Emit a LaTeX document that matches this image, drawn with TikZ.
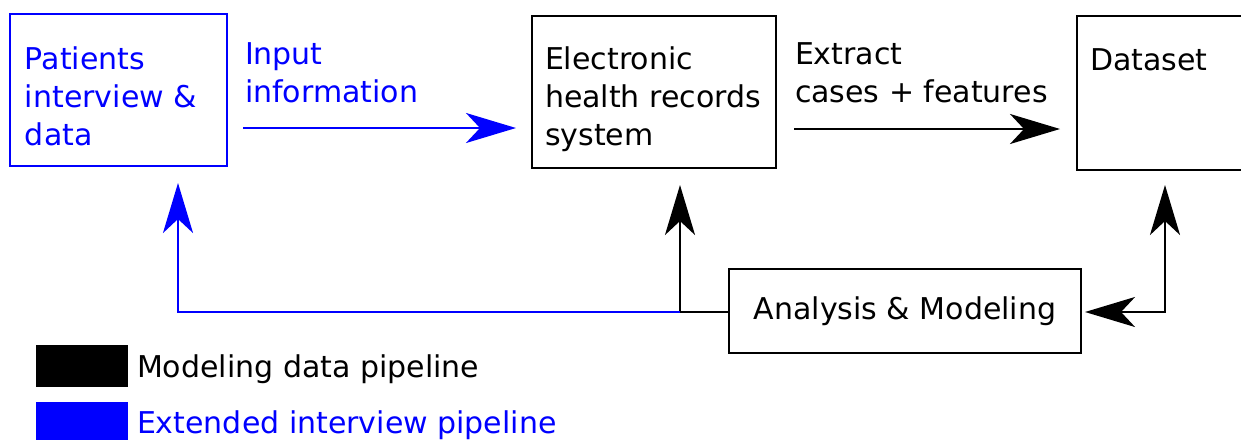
\documentclass[tikz,border=0pt]{standalone}
\usepackage{fontspec}
\setmainfont{DejaVu Sans}
\usetikzlibrary{arrows.meta}
\definecolor{pblue}{RGB}{0,0,255}
\begin{document}
\begin{tikzpicture}[x=0.5pt,y=-0.5pt,
  every node/.style={font=\fontsize{15}{19}\selectfont, outer sep=0pt},
  box/.style={draw, line width=1pt, rectangle, inner sep=0pt},
  txt/.style={inner sep=0pt, align=left},
  conn/.style={line width=1.3pt, -{Stealth[length=25pt,width=15pt,inset=7pt]}},
  bconn/.style={conn, draw=pblue, -{Stealth[length=25pt,width=15pt,inset=7pt,fill=pblue]}},
  swatch/.style={rectangle, inner sep=0pt, minimum width=46pt, minimum height=21pt}]
\useasboundingbox (0,0) rectangle (1241,439);
\clip (0,0) rectangle (1241,439);
% boxes
\node[box, draw=pblue, minimum width=108.5pt, minimum height=76pt] (pat) at (118.5,90) {};
\node[box, minimum width=122pt, minimum height=76pt] (ehr) at (654,92) {};
\node[box, minimum width=91.5pt, minimum height=77pt] (ds) at (1168.5,93) {};
\node[box, minimum width=176pt, minimum height=42pt] (ana) at (905,311) {Analysis \& Modeling};
% box texts
\node[txt, text=pblue, anchor=north west] (pattxt) at (25,47) {Patients\\interview \&\\data};
\node[txt, anchor=north west] (ehrtxt) at (545,47) {Electronic\\health records\\system};
\node[txt, anchor=base west] (dstxt) at (1090,70) {Dataset};
% connector labels
\node[txt, text=pblue, anchor=north west] (inlab) at (245,43) {Input\\information};
\node[txt, anchor=north west] (exlab) at (795,43) {Extract\\cases + features};
% connectors
\coordinate (j) at (680,312);
\coordinate (bturn) at (178,312);
\coordinate (rc) at (1165,312);
\draw[bconn, shorten <=8pt, shorten >=8pt] (pat.east |- 0,128) -- (ehr.west |- 0,128);
\draw[conn, shorten <=9pt, shorten >=8.5pt] (ehr.east |- 0,129) -- (ds.west |- 0,129);
\draw[line width=1.3pt] (ana.west |- j) -- (j);
\draw[conn, shorten >=8.5pt] (j) -- (j |- ehr.south);
\draw[bconn] (j) -- (bturn) -- ([yshift=-8.5pt]bturn |- pat.south);
\draw[line width=1.3pt, {Stealth[length=25pt,width=15pt,inset=7pt]}-{Stealth[length=25pt,width=15pt,inset=7pt]}, shorten <=2pt, shorten >=7.5pt] (ana.east |- rc) -- (rc) -- (rc |- ds.south);
% legend
\node[swatch, fill=black] (lk) at (82,366) {};
\node[swatch, fill=pblue] (lb) at (82,423) {};
\node[txt, anchor=base west] (lktxt) at (137,377) {Modeling data pipeline};
\node[txt, text=pblue, anchor=base west] (lbtxt) at (137,433) {Extended interview pipeline};
\end{tikzpicture}
\end{document}
